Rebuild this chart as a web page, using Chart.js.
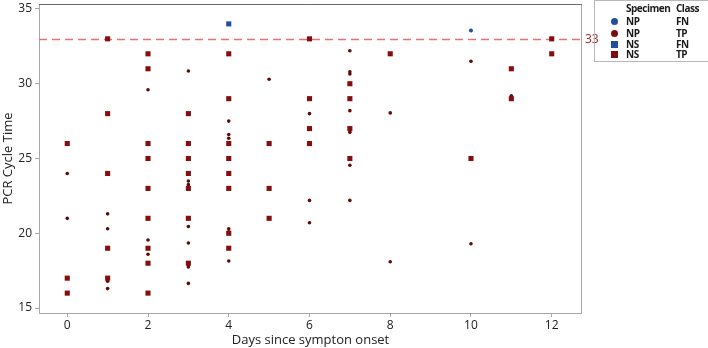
<!DOCTYPE html>
<html>
<head>
<meta charset="utf-8">
<script src="https://cdn.jsdelivr.net/npm/chart.js@4.4.1/dist/chart.umd.min.js"></script>
<style>
  html, body { margin: 0; padding: 0; background: #fff; }
  #wrap { position: relative; width: 708px; height: 348px; }
  #legend {
    position: absolute; left: 594px; top: 0px; width: 120px; height: 62px;
    border: 1px solid #b8b8b8; box-sizing: border-box;
    font-family: "Open Sans", sans-serif; font-size: 10px; font-weight: 700; color: #1a1a1a;
    letter-spacing: -0.5px;
  }
  #legend .row { position: absolute; left: 0; height: 12px; line-height: 12px; }
  #legend .c1 { position: absolute; left: 31px; white-space: nowrap; }
  #legend .c2 { position: absolute; left: 81px; white-space: nowrap; }
  #legend .mk { position: absolute; left: 16px; top: 2.5px; width: 7px; height: 7px; }
  #legend .mk.circle { border-radius: 50%; }
</style>
</head>
<body>
<div id="wrap">
  <canvas id="chart" width="708" height="348"></canvas>
  <div id="legend"></div>
</div>
<script>
// axis ticks
const xTickValues = [0, 2, 4, 6, 8, 10, 12];
const yTickValues = [15, 20, 25, 30, 35];
const cutoff = 33;

// NP, true positive (small circles)
const npTpDays = [0, 0, 1, 1, 1, 1, 2, 2, 2,
  3, 3, 3, 3, 3, 3, 3, 3, 3,
  4, 4, 4, 4, 4, 4, 5, 6, 6, 6,
  7, 7, 7, 7, 7, 7, 7, 7, 8, 8, 10, 10, 11, 11];
const npTpCt = [24, 21, 21.3, 20.3, 16.8, 16.3, 29.6, 19.55, 18.6,
  30.85, 23.5, 23.25, 23.1, 20.45, 19.35, 17.9, 17.75, 16.65,
  27.5, 26.6, 26.35, 20.3, 20.1, 18.15, 30.3, 28, 22.2, 20.7,
  32.2, 30.8, 30.65, 28.2, 26.9, 26.75, 24.55, 22.2, 28.05, 18.1, 31.5, 19.3, 29.2, 29.05];

// NP, false negative
const npFnDays = [10];
const npFnCt = [33.55];

// NS, false negative
const nsFnDays = [4];
const nsFnCt = [34];

// NS, true positive (squares)
const nsTpDays = [0, 0, 0, 1, 1, 1, 1, 1,
  2, 2, 2, 2, 2, 2, 2, 2, 2,
  3, 3, 3, 3, 3, 3, 3,
  4, 4, 4, 4, 4, 4, 4, 4,
  5, 5, 5, 6, 6, 6, 6, 7, 7, 7, 7, 8, 10, 11, 11, 12, 12];
const nsTpCt = [26, 17, 16, 33, 28, 24, 19, 17,
  32, 31, 26, 25, 23, 21, 19, 18, 16,
  28, 26, 25, 24, 23, 21, 18,
  32, 29, 26, 25, 24, 23, 20, 19,
  26, 23, 21, 33, 29, 27, 26, 30, 29, 27, 25, 32, 25, 31, 29, 33, 32];

const legendRows = [
  { specimen: 'Specimen', cls: 'Class' },
  { specimen: 'NP', cls: 'FN', color: '#1f4f9e', shape: 'circle' },
  { specimen: 'NP', cls: 'TP', color: '#7d0c0c', shape: 'circle' },
  { specimen: 'NS', cls: 'FN', color: '#1f4f9e', shape: 'square' },
  { specimen: 'NS', cls: 'TP', color: '#7d0c0c', shape: 'square' }
];

function pairs(xs, ys) {
  return xs.map((x, i) => ({ x: x, y: ys[i] }));
}

// legend built as html (two columns like minitab)
const legendEl = document.getElementById('legend');
const rowTops = [1, 14, 26, 37, 47];
legendRows.forEach((r, i) => {
  const row = document.createElement('div');
  row.className = 'row';
  row.style.top = rowTops[i] + 'px';
  row.style.width = '100%';
  if (r.color) {
    const mk = document.createElement('div');
    mk.className = 'mk ' + r.shape;
    mk.style.background = r.color;
    row.appendChild(mk);
  }
  const a = document.createElement('span');
  a.className = 'c1';
  a.textContent = r.specimen;
  const b = document.createElement('span');
  b.className = 'c2';
  b.textContent = r.cls;
  row.appendChild(a);
  row.appendChild(b);
  legendEl.appendChild(row);
});

const FONT = "'Open Sans', sans-serif";

// frame + dashed cutoff line
const framePlugin = {
  id: 'frame',
  beforeDatasetsDraw(chart) {
    const { ctx, chartArea: a, scales } = chart;
    ctx.save();
    ctx.strokeStyle = '#a8a8a8';
    ctx.lineWidth = 1;
    ctx.strokeRect(a.left + 0.5, a.top + 0.5, a.right - a.left - 1, a.bottom - a.top);
    ctx.strokeStyle = '#6a6a6a';
    ctx.beginPath();
    ctx.moveTo(a.left, a.top + 0.5);
    ctx.lineTo(a.right, a.top + 0.5);
    ctx.stroke();

    const y = Math.round(scales.y.getPixelForValue(cutoff)) + 0.5;
    ctx.strokeStyle = '#e67373';
    ctx.lineWidth = 1.5;
    ctx.setLineDash([8, 5]);
    ctx.beginPath();
    ctx.moveTo(a.left, y);
    ctx.lineTo(a.right, y);
    ctx.stroke();
    ctx.setLineDash([]);

    ctx.fillStyle = '#a42626';
    ctx.font = '12px ' + FONT;
    ctx.textBaseline = 'middle';
    ctx.textAlign = 'left';
    ctx.fillText(String(cutoff), a.right + 3, y);
    ctx.restore();
  }
};

new Chart(document.getElementById('chart'), {
  type: 'scatter',
  data: {
    datasets: [
      { label: 'NS TP', data: pairs(nsTpDays, nsTpCt), pointStyle: 'rect', pointRadius: 3.6,
        backgroundColor: '#850d0d', borderColor: '#850d0d', borderWidth: 0 },
      { label: 'NS FN', data: pairs(nsFnDays, nsFnCt), pointStyle: 'rect', pointRadius: 3.6,
        backgroundColor: '#1f4f9e', borderColor: '#1f4f9e', borderWidth: 0 },
      { label: 'NP TP', data: pairs(npTpDays, npTpCt), pointStyle: 'circle', pointRadius: 1.8,
        backgroundColor: '#5e0a0a', borderColor: '#5e0a0a', borderWidth: 0 },
      { label: 'NP FN', data: pairs(npFnDays, npFnCt), pointStyle: 'circle', pointRadius: 2,
        backgroundColor: '#1f4f9e', borderColor: '#1f4f9e', borderWidth: 0 }
    ]
  },
  options: {
    responsive: false,
    animation: false,
    layout: { padding: { top: 1, right: 126, left: 0, bottom: 0 } },
    plugins: {
      legend: { display: false },
      tooltip: { enabled: false }
    },
    scales: {
      x: {
        type: 'linear',
        min: -0.7,
        max: 12.75,
        afterBuildTicks: (s) => { s.ticks = xTickValues.map(v => ({ value: v })); },
        afterFit: (s) => { s.height = 35; s.paddingLeft = 0; s.paddingRight = 0; },
        border: { display: false },
        grid: { drawOnChartArea: false, drawTicks: true, tickLength: 4, color: '#a8a8a8' },
        ticks: { color: '#222', font: { family: FONT, size: 12 }, padding: 1, maxRotation: 0 },
        title: { display: true, text: 'Days since sympton onset', color: '#222',
          font: { family: FONT, size: 13 }, padding: { top: 0, bottom: 0 } }
      },
      y: {
        type: 'linear',
        min: 14.67,
        max: 35.33,
        afterBuildTicks: (s) => { s.ticks = yTickValues.map(v => ({ value: v })); },
        afterFit: (s) => { s.width = 39; s.paddingTop = 0; s.paddingBottom = 0; },
        border: { display: false },
        grid: { drawOnChartArea: false, drawTicks: true, tickLength: 4, color: '#a8a8a8' },
        ticks: { color: '#222', font: { family: FONT, size: 12 }, padding: 3 },
        title: { display: true, text: 'PCR Cycle Time', color: '#222',
          font: { family: FONT, size: 13 }, padding: { top: 0, bottom: 0 } }
      }
    }
  },
  plugins: [framePlugin]
});
</script>
</body>
</html>
